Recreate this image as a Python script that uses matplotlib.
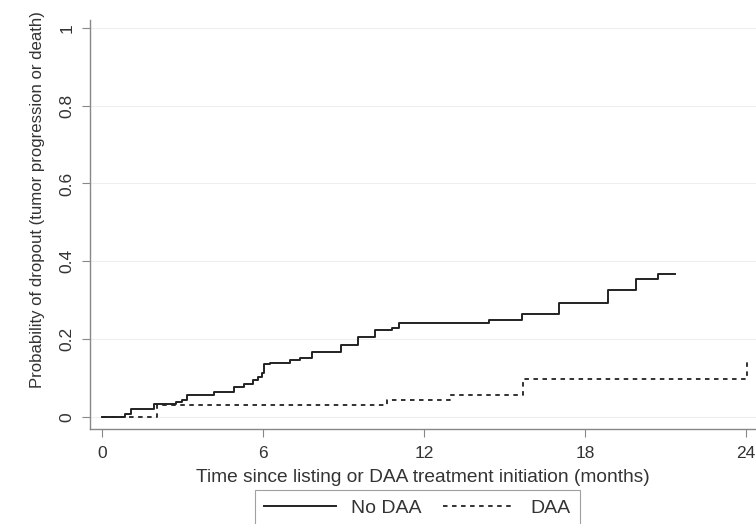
import numpy as np
from matplotlib import pyplot as plt
from matplotlib import rcParams

rcParams['font.family'] = ['Liberation Sans', 'DejaVu Sans']
rcParams['xtick.direction'] = 'out'
rcParams['ytick.direction'] = 'out'

# step data (months, cumulative probability)
t_nodaa = [0, 0.86, 1.1, 1.95, 2.76, 2.97, 3.18, 4.17, 4.93, 5.3, 5.64, 5.81, 5.96,
           6.04, 6.27, 7.0, 7.38, 7.81, 8.9, 9.55, 10.17, 10.8, 11.08, 14.44, 15.64,
           17.04, 18.87, 19.89, 20.71, 21.36]
p_nodaa = [0, 0.008, 0.022, 0.034, 0.039, 0.045, 0.058, 0.065, 0.078, 0.084, 0.095, 0.104, 0.112,
           0.136, 0.14, 0.146, 0.153, 0.168, 0.184, 0.205, 0.224, 0.228, 0.241, 0.249, 0.265,
           0.292, 0.326, 0.354, 0.367, 0.367]

t_daa = [0, 2.04, 10.61, 12.95, 15.68, 24.03]
p_daa = [0, 0.032, 0.044, 0.057, 0.097, 0.153]

xticks = [0, 6, 12, 18, 24]
yticks = [0, 0.2, 0.4, 0.6, 0.8, 1]
ytick_labels = ['0', '0.2', '0.4', '0.6', '0.8', '1']

fig = plt.figure(figsize=(7.56, 5.24), dpi=100)
ax = fig.add_axes([0.119, 0.181, 0.881, 0.781])

for y in yticks:
    ax.axhline(y, color='#eeeeee', lw=0.8, zorder=0)

ax.step(t_nodaa, p_nodaa, where='post', color='#222222', lw=1.4, label='No DAA')
ax.step(t_daa, p_daa, where='post', color='#222222', lw=1.3, ls=(0, (2.5, 2.5)), label='DAA')

ax.set_xlim(-0.447, 24.37)
ax.set_ylim(-0.031, 1.02)
ax.set_xticks(xticks)
ax.set_yticks(yticks)
ax.set_yticklabels(ytick_labels, rotation=90, va='center')
ax.tick_params(axis='x', colors='#888888', labelcolor='#333333', labelsize=12.5, length=6, width=0.8, pad=6)
ax.tick_params(axis='y', colors='#888888', labelcolor='#333333', labelsize=12.5, length=6, width=0.8, pad=5)

for s in ['top', 'right']:
    ax.spines[s].set_visible(False)
for s in ['left', 'bottom']:
    ax.spines[s].set_color('#888888')
    ax.spines[s].set_linewidth(1.0)

ax.set_xlabel('Time since listing or DAA treatment initiation (months)', fontsize=13.8, color='#333333')
ax.set_ylabel('Probability of dropout (tumor progression or death)', fontsize=12.1, color='#333333')
ax.xaxis.set_label_coords(0.5, -0.097)
ax.yaxis.set_label_coords(-0.068, 0.56)

leg = fig.legend(loc='upper center', bbox_to_anchor=(0.552, 0.064), ncol=2, fontsize=14,
                 frameon=True, fancybox=False, edgecolor='#888888', handlelength=3.7,
                 handletextpad=0.8, columnspacing=1.1, borderpad=0.45, borderaxespad=0)
leg.get_frame().set_linewidth(0.8)
for text in leg.get_texts():
    text.set_color('#333333')

plt.savefig('out.png', dpi=100)
